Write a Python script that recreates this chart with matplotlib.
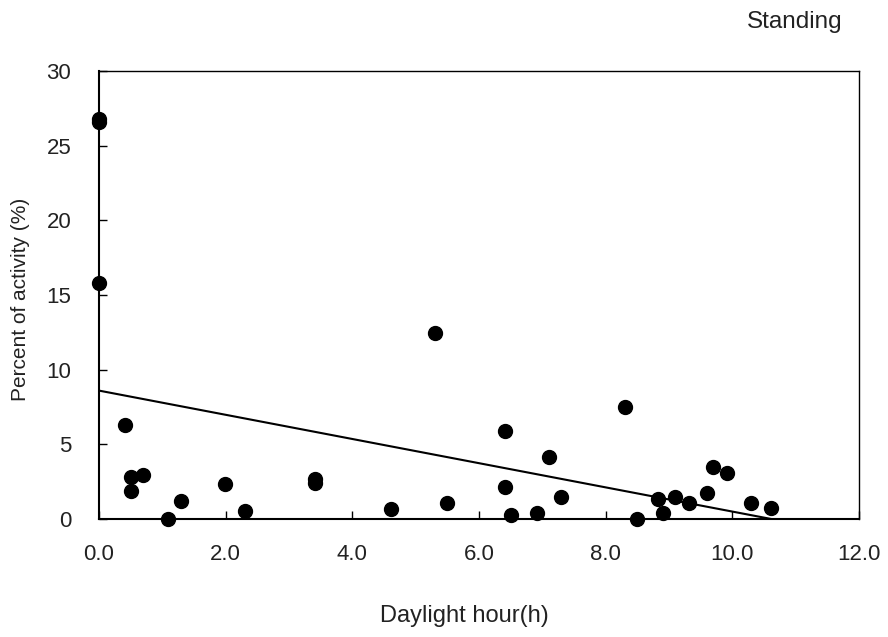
import numpy as np
import matplotlib
matplotlib.use('Agg')
import matplotlib.pyplot as plt
from matplotlib.ticker import FormatStrFormatter

plt.rcParams.update({
    "font.family": ["Liberation Sans", "DejaVu Sans"],
    "text.color": "#222222",
    "xtick.color": "black",
    "ytick.color": "black",
    "xtick.labelcolor": "#222222",
    "ytick.labelcolor": "#222222",
})

# daylight hour (h) vs percent of standing activity (%)
daylight_h = [0.0, 0.0, 0.0, 0.41, 0.5, 0.5, 0.7, 1.09, 1.29, 1.99, 2.31,
              3.41, 3.41, 4.61, 5.31, 5.5, 6.41, 6.41, 6.51, 6.91, 7.11, 7.30,
              8.31, 8.5, 8.82, 8.91, 9.1, 9.32, 9.6, 9.69, 9.92, 10.3, 10.61]
activity_pct = [26.8, 26.6, 15.8, 6.3, 2.83, 1.87, 2.95, 0.0, 1.23, 2.32, 0.54,
                2.7, 2.4, 0.69, 12.48, 1.09, 5.92, 2.17, 0.27, 0.42, 4.17, 1.5,
                7.52, 0.0, 1.36, 0.42, 1.5, 1.09, 1.76, 3.5, 3.1, 1.09, 0.71]

# linear trend line
trend_intercept = 8.6
trend_slope = -0.81

x_ticks = [0, 2, 4, 6, 8, 10, 12]
y_ticks = [0, 5, 10, 15, 20, 25, 30]

fig = plt.figure(figsize=(8.88, 6.37), dpi=100)
ax = fig.add_axes([0.1115, 0.1852, 0.8558, 0.7033])

x_end = -trend_intercept / trend_slope
tx = np.array([0.0, x_end])
ax.plot(tx, trend_intercept + trend_slope * tx, color='black', lw=1.5, zorder=2)

ax.plot(daylight_h, activity_pct, 'o', color='black', markersize=10,
        clip_on=False, zorder=3)

ax.set_xlim(0, 12)
ax.set_ylim(0, 30)
ax.set_xticks(x_ticks)
ax.set_yticks(y_ticks)
ax.xaxis.set_major_formatter(FormatStrFormatter('%.1f'))

ax.tick_params(direction='in', length=5.5, width=1, labelsize=16)
ax.tick_params(axis='x', pad=18)
ax.tick_params(axis='y', pad=20)

for side in ['left', 'bottom']:
    ax.spines[side].set_linewidth(1.5)
for side in ['top', 'right']:
    ax.spines[side].set_linewidth(1.0)

fig.text(464 / 888, 1 - 616 / 637, 'Daylight hour(h)', fontsize=17,
         ha='center', va='center')
fig.text(21 / 888, 1 - 299 / 637, 'Percent of activity (%)', fontsize=15,
         ha='center', va='center', rotation=90)
fig.text(795 / 888, 1 - 22 / 637, 'Standing', fontsize=17.5,
         ha='center', va='center')

fig.savefig('out.png', dpi=100)
